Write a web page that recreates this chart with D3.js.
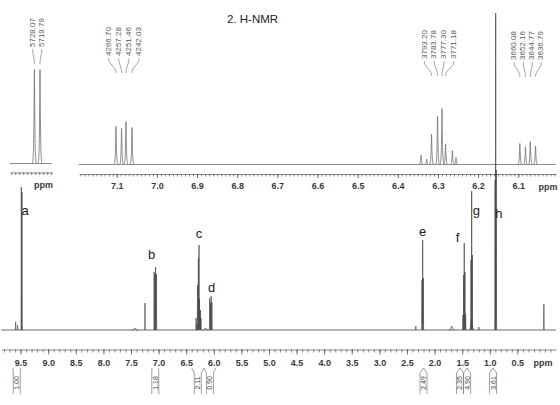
<!DOCTYPE html>
<html>
<head>
<meta charset="utf-8">
<script src="https://cdn.jsdelivr.net/npm/d3@7"></script>
<style>
  body { margin: 0; background: #fff; }
  svg { display: block; font-family: "Liberation Sans", Arial, sans-serif; }
</style>
</head>
<body>
<div id="chart"></div>
<script>
"use strict";

/* DATA */

// main spectrum lines: [ppm, intensity]
const mainPeaks = [
    [9.590, 8], [9.556, 5], [9.487, 143], [9.476, 138],
    [7.246, 27],
    [7.080, 58], [7.066, 55], [7.055, 63], [7.040, 56],
    [6.320, 12], [6.306, 6], [6.294, 45], [6.279, 72], [6.268, 85], [6.259, 31], [6.242, 20], [6.233, 12],
    [6.074, 32], [6.060, 27], [6.048, 34], [6.035, 28],
    [2.340, 4],
    [2.228, 50], [2.216, 90], [2.204, 52],
    [1.486, 15], [1.474, 55], [1.462, 87], [1.450, 58], [1.438, 16],
    [1.340, 70], [1.328, 139], [1.316, 75],
    [1.196, 3],
    [0.903, 150], [0.893, 317], [0.883, 160],
    [0.020, 26]
];

// broad humps in the main spectrum: [ppm, intensity]
const mainHumps = [[7.43, 2], [6.15, 2], [1.69, 4], [1.33, 9]];

// zoomed inset, 7.2 - 6.0 ppm
const insetPeaks = [
    [7.102, 38], [7.088, 36], [7.077, 43], [7.062, 37],
    [6.342, 9.5], [6.328, 5.5], [6.316, 30.5], [6.301, 48], [6.290, 56], [6.281, 20.5], [6.264, 14], [6.255, 7],
    [6.096, 21], [6.082, 18], [6.070, 23], [6.057, 18.5]
];

// zoomed inset of the aldehyde doublet
const leftInsetPeaks = [[9.542, 94], [9.528, 94]];

// peak frequency labels (Hz) and the ppm they point at
const leftHz = ["5728.07", "5719.79"];
const leftHzPpm = [9.542, 9.528];
const bHz = ["4266.70", "4257.28", "4251.46", "4242.03"];
const bHzPpm = [7.102, 7.088, 7.077, 7.062];
const cHz = ["3793.20", "3783.78", "3777.30", "3771.18"];
const cHzPpm = [6.316, 6.301, 6.290, 6.281];
const dHz = ["3660.08", "3652.16", "3644.77", "3636.79"];
const dHzPpm = [6.096, 6.082, 6.070, 6.057];

// peak letters
const letters = ["a", "b", "c", "d", "e", "f", "g", "h"];
const letterPpm = [9.42, 7.125, 6.268, 6.038, 2.216, 1.582, 1.241, 0.833];
const letterLevel = [120, 76, 97, 43, 99, 93, 120, 117];

// integrals
const integralValues = ["1.00", "1.18", "2.11", "0.90", "2.49", "2.35", "4.90", "3.61"];
const integralFrom = [9.64, 7.12, 6.40, 6.18, 2.20, 1.54, 1.41, 0.94];
const integralTo = [9.50, 7.00, 6.18, 5.96, 2.20, 1.54, 1.41, 0.94];

// tick labels
const mainTickLabels = [9.5, 9.0, 8.5, 8.0, 7.5, 7.0, 6.5, 6.0, 5.5, 5.0, 4.5, 4.0, 3.5, 3.0, 2.5, 2.0, 1.5, 1.0, 0.5];
const insetTickLabels = [7.1, 7.0, 6.9, 6.8, 6.7, 6.6, 6.5, 6.4, 6.3, 6.2, 6.1];


/* SVG SETUP */

let svgWidth = 560;
let svgHeight = 405;

let svg = d3.select("#chart")
    .append("svg")
    .attr("width", svgWidth)
    .attr("height", svgHeight);


/* SCALES */

let xMain = d3.scaleLinear().domain([9.85, -0.2]).range([1.3, 556]);
let yMain = d3.scaleLinear().domain([0, 320]).range([330, 10]);

let xInset = d3.scaleLinear().domain([7.194, 6.006]).range([79, 556]);
let yInset = d3.scaleLinear().domain([0, 60]).range([164.5, 104.5]);

let xLeft = d3.scaleLinear().domain([9.603, 9.498]).range([10, 52]);
let yLeft = d3.scaleLinear().domain([0, 100]).range([163.5, 63.5]);


/* HELPERS */

// one spectral line drawn as a narrow peak shape
function drawPeaks(peaks, x, y, halfWidth, color, width) {
    let line = d3.line().x(d => x(d[0])).y(d => y(d[1])).curve(d3.curveMonotoneX);
    peaks.forEach(function (p) {
        let pts = [
            [p[0] + halfWidth, 0],
            [p[0] + halfWidth * 0.5, p[1] * 0.15],
            [p[0] + halfWidth * 0.2, p[1] * 0.55],
            [p[0], p[1]],
            [p[0] - halfWidth * 0.2, p[1] * 0.55],
            [p[0] - halfWidth * 0.5, p[1] * 0.15],
            [p[0] - halfWidth, 0]
        ].sort((a, b) => x(a[0]) - x(b[0]));
        svg.append("path")
            .attr("d", line(pts))
            .attr("fill", "none")
            .attr("stroke", color)
            .attr("stroke-width", width)
            .attr("stroke-linejoin", "round");
    });
}

// flat baseline across a scale's domain
function drawBaseline(x, y, color, width) {
    let d = x.domain();
    svg.append("path")
        .attr("d", d3.line().x(v => x(v[0])).y(v => y(v[1]))([[d[0], 0], [d[1], 0]]))
        .attr("stroke", color)
        .attr("stroke-width", width);
}

// ppm axis with minor and major ticks
function drawAxis(x, yPos, labels, minorStep, minorSize, majorSize, pad) {
    let d = x.domain();
    let n = Math.floor((d[0] - d[1]) / minorStep + 1e-6);
    let minor = d3.range(n + 1).map(i => +(Math.floor(d[1] / minorStep + 1) * minorStep + i * minorStep).toFixed(3))
        .filter(v => v <= d[0] && v >= d[1]);

    svg.append("g")
        .attr("transform", "translate(0," + yPos + ")")
        .call(d3.axisBottom(x).tickValues(minor).tickSize(minorSize).tickFormat("").tickSizeOuter(0))
        .call(g => g.selectAll("path,line").attr("stroke", "#555").attr("stroke-width", 0.7));

    svg.append("g")
        .attr("transform", "translate(0," + yPos + ")")
        .call(d3.axisBottom(x).tickValues(labels).tickSize(majorSize).tickPadding(pad)
            .tickFormat(d3.format(".1f")).tickSizeOuter(0))
        .call(g => g.select(".domain").remove())
        .call(g => g.selectAll("line").attr("stroke", "#555").attr("stroke-width", 0.8))
        .call(g => g.selectAll("text")
            .attr("font-family", "'Liberation Sans', Arial, sans-serif")
            .attr("font-size", "9px")
            .attr("font-weight", "bold")
            .attr("fill", "#3a3a3a"));
}

// rotated peak frequency labels with leader lines
function drawHzLabels(labels, ppms, x, bottom, spacing) {
    let cx = d3.mean(ppms, p => x(p));
    labels.forEach(function (t, i) {
        let lx = cx + (i - (labels.length - 1) / 2) * spacing;
        let px = x(ppms[i]);
        svg.append("text")
            .attr("transform", "translate(" + lx + "," + bottom + ") rotate(-90)")
            .attr("dominant-baseline", "middle")
            .attr("font-size", "8px")
            .attr("fill", "#5a5a5a")
            .text(t);
        let pts = [[lx, bottom + 2], [lx, bottom + 6], [px, bottom + 13], [px, bottom + 17]];
        svg.append("path")
            .attr("d", d3.line().curve(d3.curveBasis)(pts))
            .attr("fill", "none")
            .attr("stroke", "#777")
            .attr("stroke-width", 0.7);
    });
}


/* TITLE */

svg.append("text")
    .attr("x", 227)
    .attr("y", 22.5)
    .attr("font-size", "11.5px")
    .attr("fill", "#222")
    .text("2.  H-NMR");


/* INSETS */

drawBaseline(xLeft, yLeft, "#707070", 0.8);
drawPeaks(leftInsetPeaks, xLeft, yLeft, 0.0045, "#707070", 0.8);
drawAxis(xLeft, 172.5, [], 0.01, 2.5, 4, 4);

svg.append("text")
    .attr("x", 43.5)
    .attr("y", 188)
    .attr("text-anchor", "middle")
    .attr("font-size", "9px")
    .attr("font-weight", "bold")
    .attr("fill", "#3a3a3a")
    .text("ppm");

drawBaseline(xInset, yInset, "#707070", 0.8);
drawPeaks(insetPeaks, xInset, yInset, 0.0045, "#707070", 0.8);
drawAxis(xInset, 174, insetTickLabels, 0.01, 2.5, 4, 4.5);

svg.append("text")
    .attr("x", 548)
    .attr("y", 189.5)
    .attr("text-anchor", "middle")
    .attr("font-size", "9px")
    .attr("font-weight", "bold")
    .attr("fill", "#3a3a3a")
    .text("ppm");

drawHzLabels(leftHz, leftHzPpm, xLeft, 47, 9);
drawHzLabels(bHz, bHzPpm, xInset, 56, 10.2);
drawHzLabels(cHz, cHzPpm, xInset, 59, 9.8);
drawHzLabels(dHz, dHzPpm, xInset, 60, 9);


/* MAIN SPECTRUM */

drawBaseline(xMain, yMain, "#444", 0.8);
drawPeaks(mainHumps, xMain, yMain, 0.05, "#444", 0.8);
drawPeaks(mainPeaks, xMain, yMain, 0.008, "#444", 0.7);

drawAxis(xMain, 349.5, mainTickLabels, 0.1, 3, 5, 5);

svg.append("text")
    .attr("x", 543)
    .attr("y", 366)
    .attr("text-anchor", "middle")
    .attr("font-size", "9px")
    .attr("font-weight", "bold")
    .attr("fill", "#3a3a3a")
    .text("ppm");

// peak letters
letters.forEach(function (l, i) {
    svg.append("text")
        .attr("x", xMain(letterPpm[i]))
        .attr("y", yMain(letterLevel[i]))
        .attr("text-anchor", "middle")
        .attr("dominant-baseline", "central")
        .attr("font-size", "13px")
        .attr("fill", "#222")
        .text(l);
});


/* INTEGRALS */

let intTop = 368;
let intBottom = 394;
let boxW = 7;

integralValues.forEach(function (v, i) {
    let x1 = xMain(integralFrom[i]);
    let x2 = xMain(integralTo[i]);
    let cx = (x1 + x2) / 2;
    let path = d3.path();
    path.moveTo(cx - boxW / 2, intBottom);
    path.lineTo(cx - boxW / 2, intTop + 5);
    path.lineTo(x1, intTop);
    path.moveTo(x2, intTop);
    path.lineTo(cx + boxW / 2, intTop + 5);
    path.lineTo(cx + boxW / 2, intBottom);
    svg.append("path")
        .attr("d", path.toString())
        .attr("fill", "none")
        .attr("stroke", "#777")
        .attr("stroke-width", 0.7);

    svg.append("text")
        .attr("transform", "translate(" + cx + "," + (intTop + 15) + ") rotate(-90)")
        .attr("text-anchor", "middle")
        .attr("dominant-baseline", "central")
        .attr("font-size", "7px")
        .attr("fill", "#444")
        .text(v);
});
</script>
</body>
</html>
